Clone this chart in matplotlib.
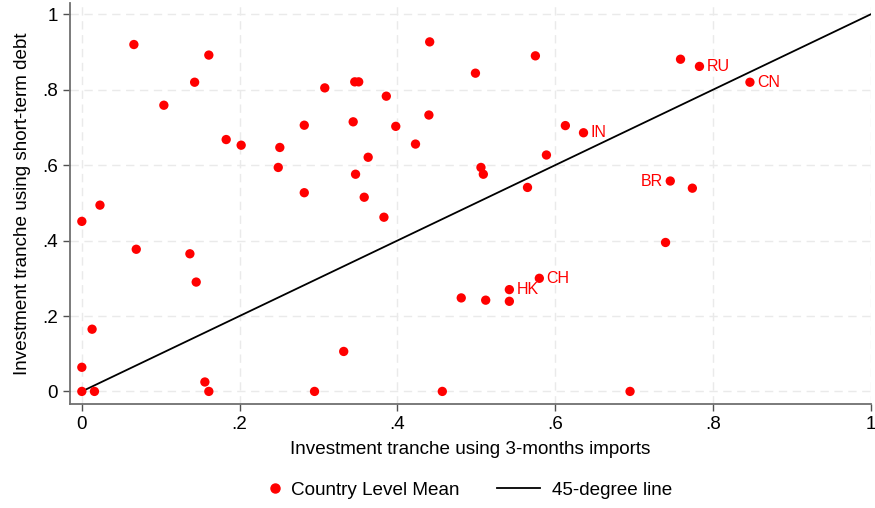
import matplotlib
matplotlib.use("Agg")
import matplotlib.pyplot as plt
from matplotlib.lines import Line2D

plt.rcParams['font.family'] = ['Liberation Sans', 'DejaVu Sans']

# country level means: x = tranche using 3-months imports, y = tranche using short-term debt
x_imports = [0.0, 0.0, 0.0, 0.016, 0.013, 0.023, 0.066, 0.069, 0.104, 0.143,
             0.161, 0.137, 0.145, 0.156, 0.161, 0.183, 0.202, 0.251, 0.249, 0.282,
             0.282, 0.295, 0.308, 0.332, 0.344, 0.346, 0.351, 0.347, 0.358, 0.363,
             0.386, 0.383, 0.398, 0.423, 0.440, 0.441, 0.457, 0.481, 0.499, 0.506,
             0.509, 0.512, 0.542, 0.542, 0.565, 0.575, 0.580, 0.589, 0.613, 0.636,
             0.695, 0.740, 0.759, 0.746, 0.774, 0.783, 0.847]
y_stdebt = [0.0, 0.064, 0.451, 0.0, 0.165, 0.494, 0.920, 0.377, 0.759, 0.820,
            0.892, 0.365, 0.290, 0.025, 0.0, 0.668, 0.653, 0.647, 0.594, 0.706,
            0.527, 0.0, 0.805, 0.106, 0.715, 0.821, 0.821, 0.576, 0.515, 0.621,
            0.783, 0.462, 0.703, 0.656, 0.733, 0.927, 0.0, 0.248, 0.844, 0.594,
            0.576, 0.242, 0.270, 0.239, 0.541, 0.890, 0.300, 0.627, 0.705, 0.686,
            0.0, 0.395, 0.881, 0.558, 0.539, 0.862, 0.820]

# labelled countries
labels = ['RU', 'CN', 'IN', 'CH', 'HK', 'BR']
label_x = [0.783, 0.847, 0.636, 0.580, 0.542, 0.746]
label_y = [0.862, 0.820, 0.686, 0.300, 0.270, 0.558]
label_side = ['right', 'right', 'right', 'right', 'right', 'left']

ticks = [0, 0.2, 0.4, 0.6, 0.8, 1]
tick_labels = ['0', '.2', '.4', '.6', '.8', '1']

FS = 13.6
RED = '#ff0000'

fig = plt.figure(figsize=(8.75, 5.08), dpi=100)
ax = fig.add_axes([0.080, 0.205, 0.915, 0.789])

ax.scatter(x_imports, y_stdebt, s=45, color=RED, edgecolors='none', zorder=3)
ax.plot([0, 1], [0, 1], color='black', lw=1.3, zorder=2)

for lab, lx, ly, side in zip(labels, label_x, label_y, label_side):
    if side == 'right':
        ax.annotate(lab, (lx, ly), xytext=(5, 0), textcoords='offset points',
                    ha='left', va='center', color=RED, fontsize=11.5)
    else:
        ax.annotate(lab, (lx, ly), xytext=(-5, 0), textcoords='offset points',
                    ha='right', va='center', color=RED, fontsize=11.5)

ax.set_xlim(-0.015, 1.0)
ax.set_ylim(-0.033, 1.03)
ax.set_xticks(ticks)
ax.set_xticklabels(tick_labels)
ax.set_yticks(ticks)
ax.set_yticklabels(tick_labels)
ax.grid(True, color='#eaeaea', linestyle=(0, (6, 4)), lw=1.0, zorder=0)
ax.set_axisbelow(True)

for s in ['top', 'right']:
    ax.spines[s].set_visible(False)
for s in ['left', 'bottom']:
    ax.spines[s].set_color('#707070')
    ax.spines[s].set_linewidth(1.3)
ax.tick_params(direction='out', length=5, width=1, color='#505050',
               labelsize=FS, labelcolor='black')

ax.set_xlabel('Investment tranche using 3-months imports', fontsize=FS, labelpad=6)
ax.set_ylabel('Investment tranche using short-term debt', fontsize=FS, labelpad=8)

# legend: two pieces so the dot and the line get their own handle widths
dot = Line2D([], [], marker='o', ls='none', color=RED, markersize=6.5)
line = Line2D([], [], color='black', lw=1.3)
fig.legend([dot], ['Country Level Mean'], loc='center left',
           bbox_to_anchor=(0.303, 0.035), frameon=False, fontsize=FS,
           handlelength=1.0, handletextpad=0.35, borderpad=0, borderaxespad=0)
fig.legend([line], ['45-degree line'], loc='center left',
           bbox_to_anchor=(0.568, 0.035), frameon=False, fontsize=FS,
           handlelength=2.3, handletextpad=0.6, borderpad=0, borderaxespad=0)

fig.savefig('out.png', dpi=100)
